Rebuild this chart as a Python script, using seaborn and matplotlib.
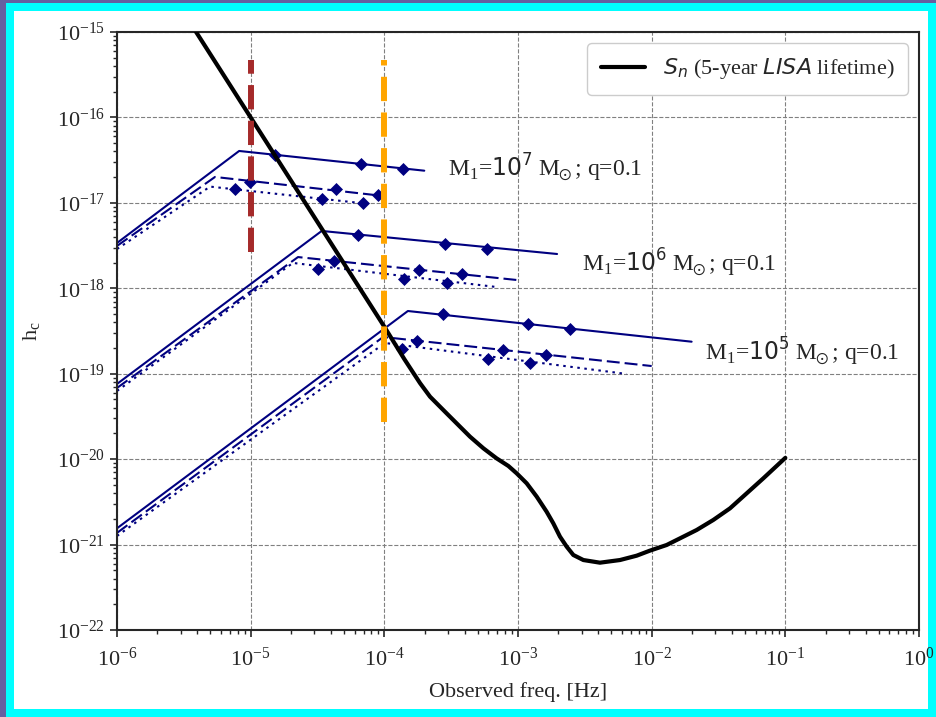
import numpy as np
import pandas as pd
import matplotlib
matplotlib.use("Agg")
import matplotlib.pyplot as plt
from matplotlib.patches import Rectangle
import seaborn as sns

# LISA sensitivity curve (5-year lifetime), log10 values
sn_logf = [-5.6, -5.0, -4.5, -4.0, -3.85, -3.733, -3.658, -3.534, -3.434, -3.359, -3.259,
           -3.160, -3.072, -3.010, -2.935, -2.860, -2.786, -2.736, -2.686, -2.636,
           -2.586, -2.511, -2.387, -2.237, -2.112, -2.013, -1.888, -1.788, -1.663,
           -1.539, -1.414, -1.289, -1.165, -1.0]
sn_logh = [-14.53, -16.0, -17.225, -18.45, -18.83, -19.11, -19.269, -19.464, -19.620, -19.737,
           -19.873, -19.991, -20.080, -20.166, -20.283, -20.439, -20.615, -20.751,
           -20.907, -21.024, -21.122, -21.181, -21.212, -21.181, -21.130, -21.071,
           -21.005, -20.927, -20.829, -20.712, -20.576, -20.400, -20.225, -19.985]

masses = ["1e7", "1e6", "1e5"]
mass_exp = ["7", "6", "5"]
kinds = ["solid", "dashed", "dotted"]

# track of each binary: start, turnover, end  (freq, hc)
track_f = {
    ("1e7", "solid"): [1e-6, 8.2e-6, 1.99e-4],
    ("1e7", "dashed"): [1e-6, 5.41e-6, 1.0e-4],
    ("1e7", "dotted"): [1e-6, 4.97e-6, 7.41e-5],
    ("1e6", "solid"): [1e-6, 3.40e-5, 1.96e-3],
    ("1e6", "dashed"): [1e-6, 2.26e-5, 9.8e-4],
    ("1e6", "dotted"): [1e-6, 2.07e-5, 6.73e-4],
    ("1e5", "solid"): [1e-6, 1.50e-4, 1.99e-2],
    ("1e5", "dashed"): [1e-6, 9.8e-5, 1.0e-2],
    ("1e5", "dotted"): [1e-6, 1.01e-4, 6.5e-3],
}
track_h = {
    ("1e7", "solid"): [3.39e-18, 4.05e-17, 2.38e-17],
    ("1e7", "dashed"): [3.13e-18, 2.01e-17, 1.20e-17],
    ("1e7", "dotted"): [2.88e-18, 1.55e-17, 9.77e-18],
    ("1e6", "solid"): [7.59e-20, 4.69e-18, 2.52e-18],
    ("1e6", "dashed"): [6.81e-20, 2.32e-18, 1.25e-18],
    ("1e6", "dotted"): [6.28e-20, 1.98e-18, 1.04e-18],
    ("1e5", "solid"): [1.55e-21, 5.42e-19, 2.37e-19],
    ("1e5", "dashed"): [1.37e-21, 2.69e-19, 1.23e-19],
    ("1e5", "dotted"): [1.26e-21, 2.29e-19, 9.93e-20],
}

# diamond markers on each track
mark_f = {
    ("1e7", "solid"): [1.52e-5, 6.68e-5, 1.38e-4],
    ("1e7", "dashed"): [9.9e-6, 4.35e-5, 8.97e-5],
    ("1e7", "dotted"): [7.64e-6, 3.42e-5, 6.92e-5],
    ("1e6", "solid"): [6.35e-5, 2.84e-4, 5.86e-4],
    ("1e6", "dashed"): [4.20e-5, 1.82e-4, 3.81e-4],
    ("1e6", "dotted"): [3.19e-5, 1.40e-4, 2.94e-4],
    ("1e5", "solid"): [2.74e-4, 1.19e-3, 2.45e-3],
    ("1e5", "dashed"): [1.75e-4, 7.69e-4, 1.62e-3],
    ("1e5", "dotted"): [1.35e-4, 5.96e-4, 1.23e-3],
}
mark_h = {
    ("1e7", "solid"): [3.63e-17, 2.85e-17, 2.49e-17],
    ("1e7", "dashed"): [1.77e-17, 1.45e-17, 1.24e-17],
    ("1e7", "dotted"): [1.45e-17, 1.11e-17, 9.95e-18],
    ("1e6", "solid"): [4.21e-18, 3.30e-18, 2.88e-18],
    ("1e6", "dashed"): [2.08e-18, 1.64e-18, 1.47e-18],
    ("1e6", "dotted"): [1.68e-18, 1.29e-18, 1.15e-18],
    ("1e5", "solid"): [4.95e-19, 3.82e-19, 3.33e-19],
    ("1e5", "dashed"): [2.44e-19, 1.90e-19, 1.67e-19],
    ("1e5", "dotted"): [1.93e-19, 1.49e-19, 1.33e-19],
}

# label anchor points (freq, hc)
label_f = [3.0e-4, 3.0e-3, 2.5e-2]
label_h = [2.56e-17, 1.98e-18, 1.79e-19]

# vertical markers: freq, hc range
vline_f = [1e-5, 1e-4]
vline_lo = [2.68e-18, 2.72e-20]
vline_hi = [4.7e-16, 4.7e-16]
vline_colors = ["brown", "orange"]

sns.set_style("ticks")
plt.rcParams["font.family"] = ["Liberation Serif", "DejaVu Serif"]
plt.rcParams["mathtext.fontset"] = "custom"
plt.rcParams["mathtext.rm"] = "Liberation Serif"
plt.rcParams["mathtext.it"] = "DejaVu Sans:italic"
plt.rcParams["mathtext.sf"] = "DejaVu Sans"
plt.rcParams["mathtext.bf"] = "Liberation Serif:bold"
plt.rcParams["mathtext.fallback"] = "stix"

fig = plt.figure(figsize=(9.36, 7.17), dpi=100)
fig.patch.set_facecolor("#6560a0")
fig.patches.append(Rectangle((6 / 936, 0), 930 / 936, 714 / 717, transform=fig.transFigure,
                             facecolor="#00ffff", edgecolor="none", zorder=-2))
fig.patches.append(Rectangle((14 / 936, 8 / 717), 914 / 936, 698 / 717, transform=fig.transFigure,
                             facecolor="white", edgecolor="none", zorder=-1))
ax = fig.add_axes([117 / 936, 1 - 630 / 717, 802 / 936, 598 / 717])

ax.set_xscale("log")
ax.set_yscale("log")

rows = []
for key in track_f:
    for f, h in zip(track_f[key], track_h[key]):
        rows.append({"mass": key[0], "kind": key[1], "f": f, "h": h})
tracks = pd.DataFrame(rows)

mrows = []
for key in mark_f:
    for f, h in zip(mark_f[key], mark_h[key]):
        mrows.append({"mass": key[0], "kind": key[1], "f": f, "h": h})
marks = pd.DataFrame(mrows)

sns.lineplot(data=tracks, x="f", y="h", hue="mass", style="kind",
             palette={m: "navy" for m in masses},
             dashes={"solid": "", "dashed": (6.2, 2.4), "dotted": (1.2, 2.2)},
             sort=False, estimator=None, lw=1.5, legend=False, ax=ax, zorder=2)
sns.scatterplot(data=marks, x="f", y="h", marker="D", color="navy", s=44,
                linewidth=0, legend=False, ax=ax, zorder=3)

sn = pd.DataFrame({"f": np.power(10.0, sn_logf), "h": np.power(10.0, sn_logh)})
sns.lineplot(data=sn, x="f", y="h", color="black", lw=3, sort=False, estimator=None,
             ax=ax, zorder=4, label=r"$S_n$ (5-year $LISA$ lifetime)")

for f, lo, hi, c in zip(vline_f, vline_lo, vline_hi, vline_colors):
    ax.plot([f, f], [lo, hi], color=c, lw=4.3, ls=(0, (4.07, 1.9)), zorder=5,
            solid_capstyle="butt", dash_capstyle="butt")

for f, h, e in zip(label_f, label_h, mass_exp):
    ax.text(f, h, r"$\mathrm{M}_1$=$\mathsf{10^{%s}}$ $\mathrm{M}_{\!\!\odot}$; q=0.1" % e,
            fontsize=17, ha="left", va="center")

ax.set_xlim(1e-6, 1)
ax.set_ylim(1e-22, 1e-15)
ax.grid(True, which="major", ls="--", color="gray", lw=0.8)
for s in ax.spines.values():
    s.set_linewidth(1.5)
ax.tick_params(which="major", labelsize=16, length=5, width=1.2)
ax.tick_params(axis="x", which="major", pad=8)
ax.tick_params(which="minor", length=3, width=1)
ax.set_xlabel("Observed freq. [Hz]", fontsize=16, labelpad=8)
ax.set_ylabel(r"h$_\mathrm{c}$", fontsize=16, labelpad=10)

ax.legend(loc="upper right", fontsize=16, framealpha=1, borderpad=0.6)

fig.savefig("out.png", dpi=100, facecolor=fig.get_facecolor())
